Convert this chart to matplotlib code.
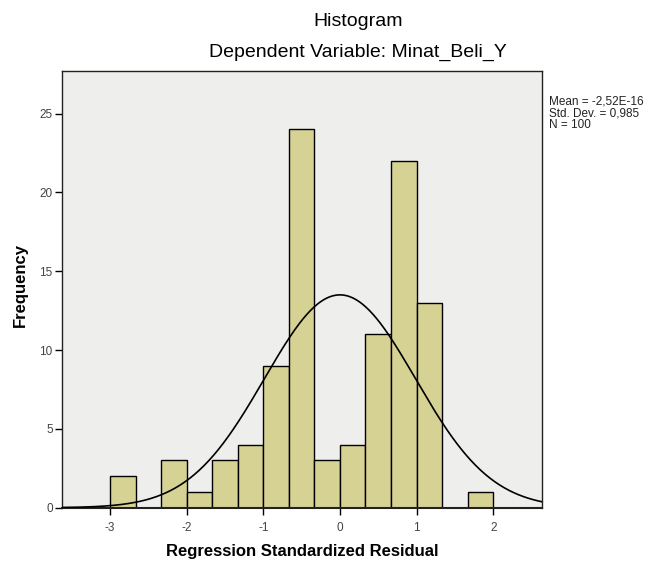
import numpy as np
import matplotlib
matplotlib.use("Agg")
import matplotlib.pyplot as plt

plt.rcParams['font.family'] = ['Liberation Sans', 'DejaVu Sans']

# Data
bin_start = -3.0
bin_width = 1.0 / 3.0
counts = [2, 0, 3, 1, 3, 4, 9, 24, 3, 4, 11, 22, 13, 0, 1]
mean_val = -2.52e-16
std_val = 0.985
n_val = 100
x_ticks = [-3, -2, -1, 0, 1, 2]
y_ticks = [0, 5, 10, 15, 20, 25]

fig = plt.figure(figsize=(6.49, 5.61), dpi=100)
fig.patch.set_facecolor('white')
ax = fig.add_axes([0.0963, 0.095, 0.7381, 0.7784])
ax.set_facecolor('#EEEEEC')

lefts = [bin_start + i * bin_width for i in range(len(counts))]
ax.bar(lefts, counts, width=bin_width, align='edge', color='#D6D294',
       edgecolor='black', linewidth=1.0, zorder=2)

xlim = (-3.62, 2.63)
xs = np.linspace(xlim[0], xlim[1], 400)
ys = n_val * bin_width / (std_val * np.sqrt(2 * np.pi)) * np.exp(-0.5 * ((xs - mean_val) / std_val) ** 2)
ax.plot(xs, ys, color='black', linewidth=1.2, zorder=3)

ax.set_xlim(*xlim)
ax.set_ylim(0, 27.7)
ax.set_xticks(x_ticks)
ax.set_xticklabels([str(t) for t in x_ticks])
ax.set_yticks(y_ticks)
ax.set_yticklabels([str(t) for t in y_ticks])
ax.tick_params(axis='both', direction='out', length=5, width=1, color='black',
               labelsize=8.5, labelcolor='#444444')
ax.tick_params(axis='x', pad=5)
ax.tick_params(axis='y', pad=2)
for s in ax.spines.values():
    s.set_color('#222222')
    s.set_linewidth(1.0)
ax.spines['bottom'].set_linewidth(1.5)

ax.set_xlabel('Regression Standardized Residual', fontsize=12, fontweight='bold')
ax.set_ylabel('Frequency', fontsize=12, fontweight='bold')
ax.xaxis.label.set_va('center')
ax.yaxis.label.set_va('center')
ax.xaxis.set_label_coords(0.5, -0.1008)
ax.yaxis.set_label_coords(-0.0888, 0.51)

fig.text(358 / 649, 1 - 22 / 561, 'Histogram', ha='center', va='center', fontsize=14)
fig.text(358 / 649, 1 - 52 / 561, 'Dependent Variable: Minat_Beli_Y', ha='center', va='center', fontsize=14)

fig.text(549 / 649, 1 - 95 / 561, 'Mean = -2,52E-16\nStd. Dev. = 0,985\nN = 100',
         ha='left', va='top', fontsize=8.5, color='#222222', linespacing=1.0)

fig.savefig('out.png', dpi=100, facecolor='white')
